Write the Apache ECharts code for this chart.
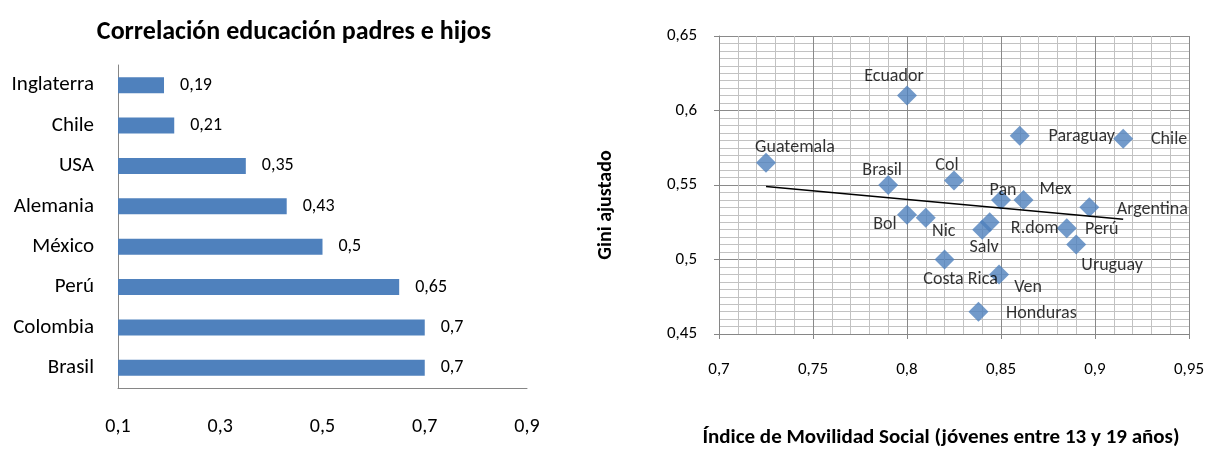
<!DOCTYPE html>
<html>
<head>
<meta charset="utf-8">
<script src="https://cdn.jsdelivr.net/npm/echarts@6/dist/echarts.min.js"></script>
<style>
html,body{margin:0;padding:0;background:#fff;}
#c{width:1207px;height:450px;}
</style>
</head>
<body>
<div id="c"></div>
<script>
// Left chart data
const barCategories = ['Inglaterra', 'Chile', 'USA', 'Alemania', 'México', 'Perú', 'Colombia', 'Brasil'];
const barValues = [0.19, 0.21, 0.35, 0.43, 0.5, 0.65, 0.7, 0.7];
const barTicks = [0.1, 0.3, 0.5, 0.7, 0.9];

// Right chart data
const scatterNames = ['Ecuador', 'Paraguay', 'Chile', 'Guatemala', 'Brasil', 'Col', 'Pan', 'Mex', 'Argentina', 'Bol', 'Nic', 'R.dom', 'Salv', 'Perú', 'Uruguay', 'Costa Rica', 'Ven', 'Honduras'];
const scatterX = [0.80, 0.86, 0.915, 0.725, 0.79, 0.825, 0.85, 0.862, 0.897, 0.80, 0.81, 0.844, 0.84, 0.885, 0.89, 0.82, 0.849, 0.838];
const scatterY = [0.61, 0.583, 0.581, 0.565, 0.55, 0.553, 0.54, 0.54, 0.535, 0.53, 0.528, 0.525, 0.52, 0.521, 0.51, 0.50, 0.49, 0.465];
const trendX = [0.725, 0.915];
const trendY = [0.549, 0.527];
const scatterXTicks = [0.7, 0.75, 0.8, 0.85, 0.9, 0.95];
const scatterYTicks = [0.45, 0.5, 0.55, 0.6, 0.65];

// label layout offsets (label centre relative to point centre, px)
const labelOffsets = {
  'Ecuador': [-13, -19], 'Paraguay': [62, 1], 'Chile': [46, 1], 'Guatemala': [29, -15],
  'Brasil': [-6, -15], 'Col': [-7, -15], 'Pan': [2, -9], 'Mex': [32, -10],
  'Argentina': [63, 2], 'Bol': [-22, 10], 'Nic': [18, 14], 'R.dom': [45, 6],
  'Salv': [2, 18], 'Perú': [35, 1], 'Uruguay': [36, 21], 'Costa Rica': [16, 20],
  'Ven': [29, 13], 'Honduras': [63, 2]
};

const FONT = 'Carlito, Lato, "Open Sans", sans-serif';
const fmt = v => String(+(+v).toFixed(2)).replace('.', ',');
const BLUE = '#4F81BD';
const AXIS = '#868686';

const scatterData = scatterNames.map((n, i) => ({
  name: n,
  value: [scatterX[i], scatterY[i]],
  label: { offset: labelOffsets[n] }
}));

const chart = echarts.init(document.getElementById('c'), null, { renderer: 'canvas' });
chart.setOption({
  animation: false,
  textStyle: { fontFamily: FONT },
  title: [{
    text: 'Correlación educación padres e hijos',
    left: 289, top: 14, textAlign: 'center',
    textStyle: { fontFamily: FONT, fontSize: 26, fontWeight: 'bold', color: '#000' }
  }],
  graphic: [{
    type: 'text', x: 606, y: 205, rotation: Math.PI / 2,
    style: { text: 'Gini ajustado', font: 'bold 20px ' + FONT, fill: '#000', textAlign: 'center', textVerticalAlign: 'middle' }
  }, {
    type: 'text', x: 941, y: 438,
    style: { text: 'Índice de Movilidad Social (jóvenes entre 13 y 19 años)', font: 'bold 21px ' + FONT, fill: '#000', textAlign: 'center', textVerticalAlign: 'middle' }
  }],
  grid: [
    { left: 118, top: 65, width: 409, height: 323 },
    { left: 719, top: 36, width: 472, height: 298 }
  ],
  xAxis: [{
    gridIndex: 0, type: 'value', min: barTicks[0], max: barTicks[barTicks.length - 1], interval: 0.2,
    axisLine: { show: true, lineStyle: { color: AXIS, width: 1 } },
    axisTick: { show: false }, splitLine: { show: false },
    axisLabel: { formatter: fmt, fontSize: 20, color: '#000', margin: 29, fontFamily: FONT }
  }, {
    gridIndex: 1, type: 'value', min: scatterXTicks[0], max: scatterXTicks[scatterXTicks.length - 1], interval: 0.05,
    axisLine: { show: true, onZero: false, lineStyle: { color: AXIS, width: 1 } },
    axisTick: { show: true, length: 5, lineStyle: { color: AXIS } },
    minorTick: { show: false, splitNumber: 5 },
    splitLine: { show: true, lineStyle: { color: '#8a8a8a', width: 1 } },
    minorSplitLine: { show: true, lineStyle: { color: '#c2c2c2', width: 1 } },
    axisLabel: { formatter: fmt, fontSize: 17, color: '#000', margin: 27, fontFamily: FONT }
  }],
  yAxis: [{
    gridIndex: 0, type: 'category', data: barCategories, inverse: true,
    axisLine: { show: true, lineStyle: { color: AXIS, width: 1 } },
    axisTick: { show: false },
    axisLabel: { fontSize: 21, color: '#000', margin: 24, fontFamily: FONT }
  }, {
    gridIndex: 1, type: 'value', min: scatterYTicks[0], max: scatterYTicks[scatterYTicks.length - 1], interval: 0.05,
    axisLine: { show: true, onZero: false, lineStyle: { color: AXIS, width: 1 } },
    axisTick: { show: true, length: 5, lineStyle: { color: AXIS } },
    minorTick: { show: false, splitNumber: 10 },
    splitLine: { show: true, lineStyle: { color: '#8a8a8a', width: 1 } },
    minorSplitLine: { show: true, lineStyle: { color: '#c2c2c2', width: 1 } },
    axisLabel: { formatter: fmt, fontSize: 17, color: '#000', margin: 22, fontFamily: FONT }
  }],
  series: [{
    type: 'bar', xAxisIndex: 0, yAxisIndex: 0, data: barValues, barWidth: 16,
    itemStyle: { color: BLUE },
    label: { show: true, position: 'right', distance: 16, formatter: p => fmt(p.value), fontSize: 18, color: '#000', fontFamily: FONT }
  }, {
    type: 'scatter', xAxisIndex: 1, yAxisIndex: 1, data: scatterData,
    symbol: 'diamond', symbolSize: 20,
    itemStyle: { color: BLUE },
    label: { show: true, position: 'inside', formatter: p => p.name, fontSize: 18, color: '#000', fontFamily: FONT },
    z: 2
  }, {
    type: 'line', xAxisIndex: 1, yAxisIndex: 1,
    data: trendX.map((x, i) => [x, trendY[i]]),
    symbol: 'none', lineStyle: { color: '#000', width: 1.5 }, z: 3, silent: true
  }]
});
</script>
</body>
</html>
